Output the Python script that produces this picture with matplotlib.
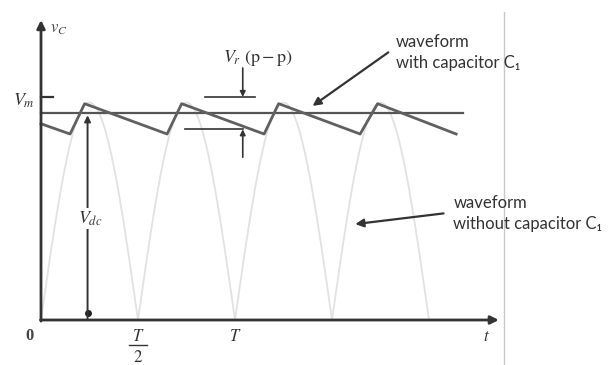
import matplotlib
matplotlib.use("Agg")
import matplotlib.pyplot as plt
import numpy as np

plt.rcParams["mathtext.fontset"] = "stix"

# time in units of T/2, voltage in units of Vm
half_periods = 4
t_cap = [0.0, 0.30, 0.45, 1.30, 1.45, 2.30, 2.45, 3.29, 3.47, 4.28]
v_cap = [0.88, 0.834, 0.97, 0.834, 0.97, 0.834, 0.97, 0.834, 0.97, 0.834]
v_peak = 0.975
v_dc = 0.928
v_m = 1.0

fig = plt.figure(figsize=(6.11, 3.65), dpi=100)
ax = fig.add_axes([0, 0, 1, 1])
ax.set_xlim(-41 / 97, (611 - 41) / 97)
ax.set_ylim(-45 / 223, 320 / 223)
ax.axis("off")

# rectified sine (no capacitor)
t = np.linspace(0, half_periods, 800)
ax.plot(t, v_peak * np.abs(np.sin(np.pi * t)), color="#e2e2e2", lw=1.3,
        zorder=1)

# capacitor waveform
ax.plot(t_cap, v_cap, color="#606060", lw=2.0, zorder=3)
# Vdc line
ax.plot([0, 4.35], [v_dc, v_dc], color="#555555", lw=1.6, zorder=2)

# axes
ax.annotate("", xy=(0, 1.345), xytext=(0, -0.005),
            arrowprops=dict(arrowstyle="-|>", color="#333333", lw=2,
                            mutation_scale=12, shrinkA=0, shrinkB=0))
ax.annotate("", xy=(4.72, 0), xytext=(-0.005, 0),
            arrowprops=dict(arrowstyle="-|>", color="#333333", lw=2,
                            mutation_scale=12, shrinkA=0, shrinkB=0))
ax.plot([0, 0.12], [v_m, v_m], color="#333333", lw=1.6)

ax.text(0.09, 1.31, r"$v_C$", fontsize=12, color="#444444", va="center")
ax.text(-0.06, v_m * 0.985, r"$V_m$", fontsize=13, color="#333333",
        ha="right", va="center")
ax.text(-0.12, -0.07, "0", fontsize=12, color="#444444", ha="center",
        va="center", family="Liberation Serif", weight="bold")
# T/2 as stacked fraction
ax.text(1, -0.07, r"$T$", fontsize=12, color="#333333", ha="center",
        va="center")
ax.plot([0.91, 1.09], [-0.112, -0.112], color="#333333", lw=1.0)
ax.text(1, -0.168, r"$2$", fontsize=12, color="#333333", ha="center",
        va="center")
ax.text(2, -0.07, r"$T$", fontsize=12, color="#333333", ha="center",
        va="center")
ax.text(4.59, -0.07, r"$t$", fontsize=12, color="#333333", ha="center",
        va="center")

# Vdc arrow
ax.annotate("", xy=(0.48, v_dc - 0.01), xytext=(0.48, 0.0),
            arrowprops=dict(arrowstyle="-|>", color="#333333", lw=1.4,
                            mutation_scale=9, shrinkA=0, shrinkB=0))
ax.plot([0.48], [0.03], "o", color="#222222", ms=4)
ax.text(0.51, 0.455, r"$V_{dc}$", fontsize=13, color="#333333",
        ha="center", va="center",
        bbox=dict(facecolor="white", edgecolor="none", pad=1))

# ripple annotation
ax.plot([1.69, 2.21], [v_m, v_m], color="#333333", lw=1.2)
ax.plot([1.48, 2.08], [0.855, 0.855], color="#333333", lw=1.2)
ax.annotate("", xy=(2.08, v_m), xytext=(2.08, 1.13),
            arrowprops=dict(arrowstyle="-|>", color="#333333", lw=1.2,
                            mutation_scale=8, shrinkA=0, shrinkB=0))
ax.annotate("", xy=(2.08, 0.855), xytext=(2.08, 0.73),
            arrowprops=dict(arrowstyle="-|>", color="#333333", lw=1.2,
                            mutation_scale=8, shrinkA=0, shrinkB=0))
ax.text(1.88, 1.175, r"$V_r\ (\mathrm{p}-\mathrm{p})$", fontsize=13,
        color="#333333", ha="left", va="center")

# text labels
ax.annotate("", xy=(2.80, 0.96), xytext=(3.58, 1.20),
            arrowprops=dict(arrowstyle="-|>", color="#333333", lw=1.6,
                            mutation_scale=12, shrinkA=0, shrinkB=0))
ax.text(3.66, 1.20, "waveform\nwith capacitor C\u2081", fontsize=12,
        family="Lato", color="#333333", ha="left", va="center",
        linespacing=1.35)
ax.annotate("", xy=(3.24, 0.43), xytext=(4.15, 0.478),
            arrowprops=dict(arrowstyle="-|>", color="#333333", lw=1.6,
                            mutation_scale=12, shrinkA=0, shrinkB=0))
ax.text(4.25, 0.478, "waveform\nwithout capacitor C\u2081", fontsize=12,
        family="Lato", color="#333333", ha="left", va="center",
        linespacing=1.35)

# right border line
ax.plot([4.77, 4.77], [-0.21, 1.38], color="#c8c8c8", lw=1.0)

fig.savefig("out.png", dpi=100)
